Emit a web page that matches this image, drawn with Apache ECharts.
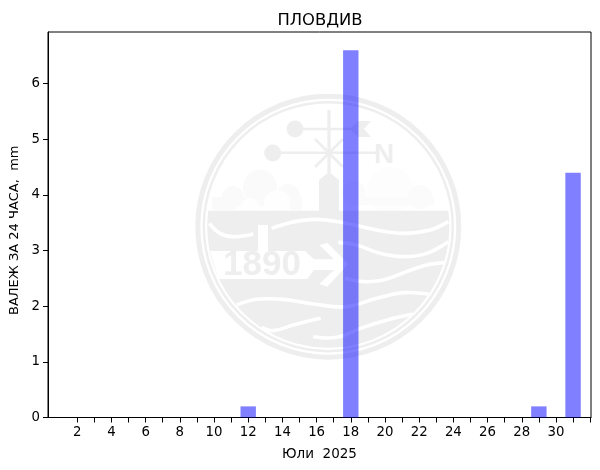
<!DOCTYPE html>
<html>
<head>
<meta charset="utf-8">
<style>
  html, body { margin: 0; padding: 0; background: #fff; }
  #chart { width: 600px; height: 470px; }
</style>
<script src="https://cdn.jsdelivr.net/npm/echarts@6/dist/echarts.min.js"></script>
</head>
<body>
<div id="chart"></div>
<script>
var days = [1, 2, 3, 4, 5, 6, 7, 8, 9, 10, 11, 12, 13, 14, 15, 16, 17, 18, 19, 20, 21, 22, 23, 24, 25, 26, 27, 28, 29, 30, 31];
var rain = [0, 0, 0, 0, 0, 0, 0, 0, 0, 0, 0, 0.2, 0, 0, 0, 0, 0, 6.6, 0, 0, 0, 0, 0, 0, 0, 0, 0, 0, 0.2, 0, 4.4];
var xTicks = [2, 3, 4, 5, 6, 7, 8, 9, 10, 11, 12, 13, 14, 15, 16, 17, 18, 19, 20, 21, 22, 23, 24, 25, 26, 27, 28, 29, 30, 31, 32];
var xLabels = [2, 4, 6, 8, 10, 12, 14, 16, 18, 20, 22, 24, 26, 28, 30];
var yLabels = [0, 1, 2, 3, 4, 5, 6];

var FONT = '"DejaVu Sans"';
var GREY = '#eeeeee';

// watermark helpers, zx/zy are pixels of the logo crop
function zx(v) { return 190 + v / 3; }
function zy(v) { return 90 + v / 3; }
function zpts(list) {
  return list.map(function (p) { return [zx(p[0]), zy(p[1])]; });
}
function circle(cx, cy, r, fill) {
  return { type: 'circle', z: 1, silent: true, shape: { cx: cx, cy: cy, r: r }, style: { fill: fill } };
}
function ring(cx, cy, r, w) {
  return { type: 'circle', z: 1, silent: true, shape: { cx: cx, cy: cy, r: r }, style: { fill: 'none', stroke: GREY, lineWidth: w } };
}
function box(x, y, w, h, fill) {
  return { type: 'rect', z: 1, silent: true, shape: { x: x, y: y, width: w, height: h }, style: { fill: fill } };
}
function poly(points, fill) {
  return { type: 'polygon', z: 1, silent: true, shape: { points: points }, style: { fill: fill } };
}
function stroke(x1, y1, x2, y2, w) {
  return { type: 'line', z: 1, silent: true, shape: { x1: x1, y1: y1, x2: x2, y2: y2 }, style: { stroke: GREY, lineWidth: w } };
}
function wave(list) {
  return { type: 'polyline', z: 1, silent: true, shape: { points: zpts(list), smooth: 0.4 }, style: { fill: 'none', stroke: '#fff', lineWidth: 3.6, lineCap: 'butt' } };
}
function label(text, x, y, size) {
  return { type: 'text', z: 1, silent: true, x: x, y: y, style: { text: text, fill: GREY, font: 'bold ' + size + 'px "Liberation Sans"', textVerticalAlign: 'bottom' } };
}
function lowerSegment(cx, cy, r, top) {
  var a0 = Math.asin((top - cy) / r);
  var pts = [];
  for (var i = 0; i <= 90; i++) {
    var a = a0 + (Math.PI - 2 * a0) * i / 90;
    pts.push([cx + r * Math.cos(a), cy + r * Math.sin(a)]);
  }
  return poly(pts, GREY);
}

var cx = 328.3, cy = 226.7;
var logo = [
  ring(cx, cy, 130.5, 5),
  ring(cx, cy, 124.5, 2.5),
  // clouds
  circle(260, 187, 17, '#fafafa'),
  circle(233, 197, 11, '#fafafa'),
  circle(288, 196, 12, '#fafafa'),
  box(212, 197, 90, 13, '#fafafa'),
  circle(277, 203, 13, '#fefefe'),
  circle(250, 208, 10, '#fefefe'),
  box(236, 206, 54, 4, '#fefefe'),
  circle(390, 190, 23, '#fdfdfd'),
  circle(420, 197, 12, '#fbfbfb'),
  circle(354, 193, 12, '#fbfbfb'),
  box(350, 197, 84, 8, '#fbfbfb'),
  // sea
  lowerSegment(cx, cy, 121, 210.7),
  wave([[58, 400], [90, 430], [130, 440], [190, 432]]),
  wave([[245, 415], [300, 398], [375, 388], [460, 398], [560, 420], [640, 430], [720, 420], [775, 395]]),
  wave([[445, 457], [500, 465], [570, 490], [640, 500], [710, 490], [775, 455]]),
  wave([[465, 565], [520, 575], [580, 570], [650, 545], [710, 525], [762, 518]]),
  wave([[140, 645], [200, 628], [280, 628], [370, 642], [470, 650], [560, 625], [640, 608], [716, 612]]),
  wave([[215, 712], [250, 722], [310, 705], [392, 685]]),
  wave([[370, 740], [440, 742], [520, 712], [600, 688], [668, 672]]),
  // post and arrow banner
  box(258, 225, 10, 28, '#fff'),
  poly(zpts([[60, 483], [345, 483], [372, 508], [432, 508], [388, 465], [412, 458], [475, 522], [412, 590], [388, 582], [432, 540], [372, 540], [352, 567], [85, 567]]), '#fff'),
  label('1890', 223, 283, 35),
  // weather vane
  poly([[319, 212], [319, 180], [329, 172], [339, 180], [339, 212]], GREY),
  stroke(329, 110, 329, 173, 3.3),
  stroke(295, 129, 355, 129, 2.6),
  stroke(272, 152.7, 376, 152.7, 2.6),
  stroke(315, 139, 343, 167, 2.6),
  stroke(315, 167, 343, 139, 2.6),
  circle(295, 129, 8.5, GREY),
  circle(272.7, 153, 8.5, GREY),
  poly([[350, 129], [358, 121], [371, 121], [364, 129], [371, 137], [358, 137]], GREY),
  label('N', 374, 169, 28)
];

var barData = days.map(function (d, i) { return [d, rain[i]]; });

var option = {
  animation: false,
  backgroundColor: '#fff',
  title: {
    text: 'ПЛОВДИВ',
    left: 315,
    top: 8,
    textAlign: 'center',
    textStyle: { fontFamily: FONT, fontSize: 16.4, fontWeight: 'normal', color: '#000' }
  },
  grid: {
    show: true,
    left: 48,
    right: 9,
    top: 32,
    bottom: 52.5,
    outerBoundsMode: 'none',
    borderColor: '#000',
    borderWidth: 1,
    backgroundColor: 'transparent'
  },
  xAxis: {
    type: 'value',
    min: 0.29,
    max: 32.05,
    name: 'Юли  2025',
    nameLocation: 'middle',
    nameGap: 29.5,
    nameTextStyle: { fontFamily: FONT, fontSize: 13.5, color: '#000' },
    splitLine: { show: false },
    axisLine: { show: true, lineStyle: { color: '#000' } },
    axisTick: { show: true, length: 5, customValues: xTicks, lineStyle: { color: '#000' } },
    axisLabel: { show: true, customValues: xLabels, margin: 9, fontFamily: FONT, fontSize: 13.3, color: '#000' }
  },
  yAxis: {
    type: 'value',
    min: 0,
    max: 6.93,
    name: 'ВАЛЕЖ ЗА 24 ЧАСА,  mm',
    nameLocation: 'middle',
    nameGap: 26,
    nameTextStyle: { fontFamily: FONT, fontSize: 13, color: '#000', padding: [0, 11, 0, 0] },
    splitLine: { show: false },
    axisLine: { show: true, lineStyle: { color: '#000' } },
    axisTick: { show: true, length: 5, customValues: yLabels, lineStyle: { color: '#000' } },
    axisLabel: { show: true, customValues: yLabels, margin: 8, padding: [2, 0, 0, 0], fontFamily: FONT, fontSize: 13.3, color: '#000' }
  },
  graphic: { elements: logo },
  series: [
    {
      type: 'bar',
      data: barData,
      barWidth: 15.4,
      z: 5,
      itemStyle: { color: 'rgba(0,0,255,0.5)' }
    }
  ]
};

var chart = echarts.init(document.getElementById('chart'), null, { renderer: 'canvas' });
chart.setOption(option);
</script>
</body>
</html>
